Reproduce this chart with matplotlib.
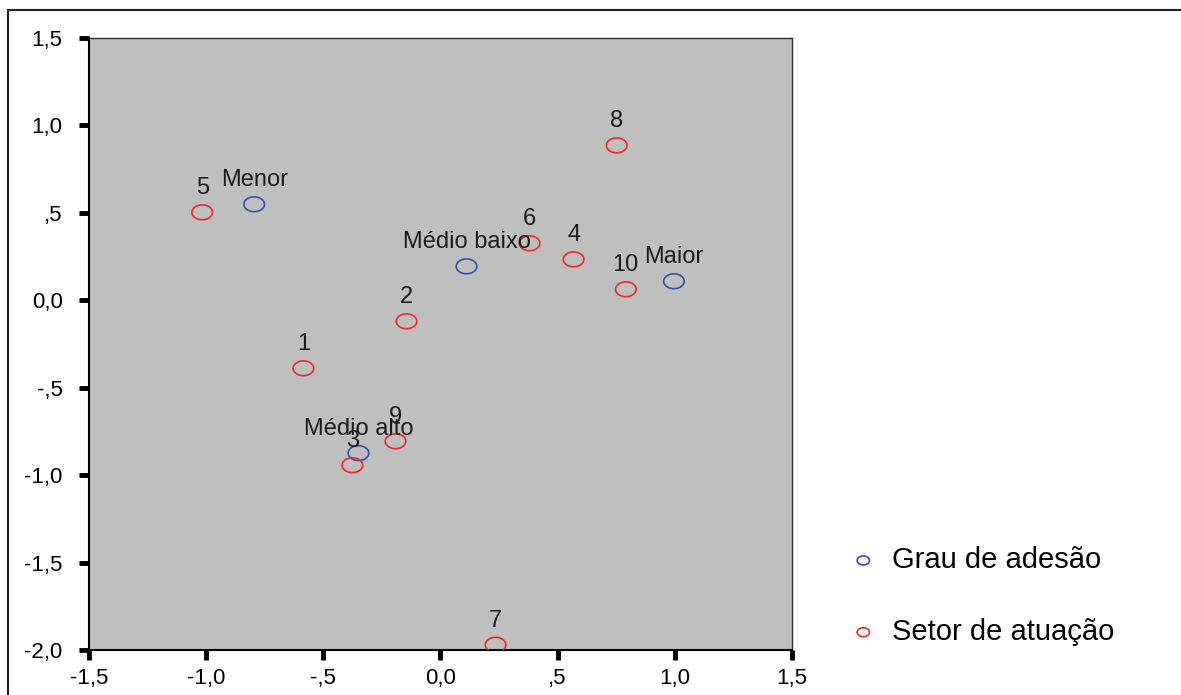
import numpy as np
import matplotlib
matplotlib.use("Agg")
import matplotlib.pyplot as plt
from matplotlib.path import Path
from matplotlib.patches import Rectangle

plt.rcParams['font.family'] = ['Liberation Sans', 'DejaVu Sans']

# Grau de adesão (blue)
grau_labels = ['Menor', 'Médio baixo', 'Maior', 'Médio alto']
grau_x = [-0.795, 0.111, 0.996, -0.350]
grau_y = [0.549, 0.194, 0.109, -0.874]

# Setor de atuação (red)
setor_labels = ['5', '8', '6', '4', '10', '2', '1', '9', '3', '7']
setor_x = [-1.017, 0.752, 0.380, 0.568, 0.791, -0.145, -0.585, -0.192, -0.376, 0.235]
setor_y = [0.503, 0.886, 0.326, 0.234, 0.063, -0.120, -0.389, -0.806, -0.943, -1.970]

xticks = [-1.5, -1.0, -0.5, 0.0, 0.5, 1.0, 1.5]
xtick_labels = ['-1,5', '-1,0', '-,5', '0,0', ',5', '1,0', '1,5']
yticks = [-2.0, -1.5, -1.0, -0.5, 0.0, 0.5, 1.0, 1.5]
ytick_labels = ['-2,0', '-1,5', '-1,0', '-,5', '0,0', ',5', '1,0', '1,5']

# slightly flattened circle, like the original markers
t = np.linspace(0, 2 * np.pi, 60)
ell = Path(np.column_stack([np.cos(t), 0.72 * np.sin(t)]), closed=True)

fig = plt.figure(figsize=(11.81, 6.95), dpi=100)
ax = fig.add_axes([89 / 1181, 1 - 650 / 695, (792 - 89) / 1181, (650 - 38) / 695])
ax.set_facecolor('#bfbfbf')

ax.scatter(grau_x, grau_y, marker=ell, s=220, facecolors='none',
           edgecolors='#3050b0', linewidths=1.2, label='Grau de adesão', zorder=3)
ax.scatter(setor_x, setor_y, marker=ell, s=220, facecolors='none',
           edgecolors='#f02828', linewidths=1.2, label='Setor de atuação', zorder=3)

for lab, x, y in zip(grau_labels, grau_x, grau_y):
    ax.annotate(lab, (x, y), xytext=(0, 13), textcoords='offset points',
                ha='center', va='baseline', fontsize=17, color='#1a1a1a', zorder=4)
for lab, x, y in zip(setor_labels, setor_x, setor_y):
    ax.annotate(lab, (x, y), xytext=(0, 13), textcoords='offset points',
                ha='center', va='baseline', fontsize=17, color='#1a1a1a', zorder=4)

ax.set_xlim(-1.5, 1.5)
ax.set_ylim(-2.0, 1.5)
ax.set_xticks(xticks)
ax.set_xticklabels(xtick_labels)
ax.set_yticks(yticks)
ax.set_yticklabels(ytick_labels)
ax.tick_params(direction='out', length=7, width=3.5, labelsize=16, colors='black')
ax.tick_params(axis='y', pad=12)
ax.tick_params(axis='x', pad=6)
for s in ax.spines.values():
    s.set_color('black')
    s.set_linewidth(1.5)
ax.spines['top'].set_linewidth(1.0)
ax.spines['right'].set_linewidth(1.0)
ax.spines['top'].set_color('#333333')
ax.spines['right'].set_color('#333333')

fig.legend(loc='center left', bbox_to_anchor=(840 / 1181, 1 - 596 / 695),
           frameon=False, fontsize=21, labelspacing=1.5, handlelength=0.8,
           handletextpad=0.6, markerscale=0.6, borderaxespad=0)

# outer frame
fig.patches.append(Rectangle((8 / 1181, -0.05), 1.1, 1.05 - 10 / 695,
                             transform=fig.transFigure, fill=False,
                             edgecolor='#222222', linewidth=1.5))

fig.savefig('out.png', dpi=100)
